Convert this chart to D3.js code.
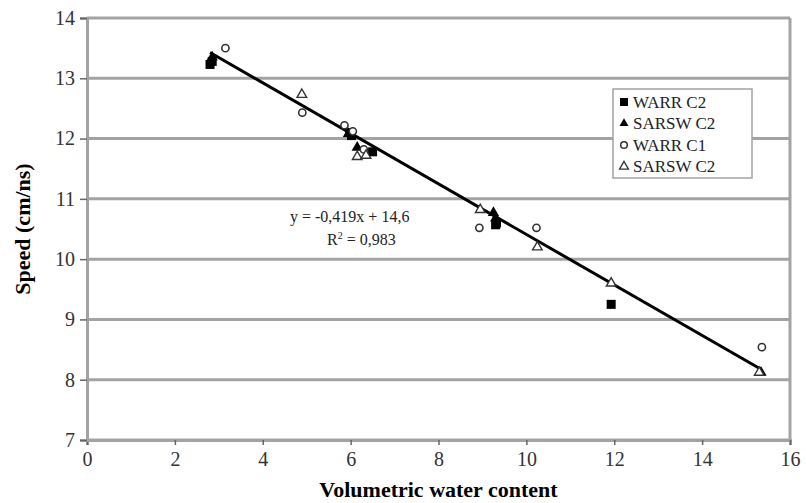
<!DOCTYPE html>
<html>
<head>
<meta charset="utf-8">
<script src="https://cdn.jsdelivr.net/npm/d3@7"></script>
<style>
  body { margin: 0; background: #fff; }
  svg { font-family: "Liberation Serif", "DejaVu Serif", serif; }
</style>
</head>
<body>
<div id="chart"></div>
<script>
// data
const xTicks = [0, 2, 4, 6, 8, 10, 12, 14, 16];
const yTicks = [7, 8, 9, 10, 11, 12, 13, 14];
const warrC2 = [[2.8, 13.23], [2.85, 13.28], [5.98, 12.1], [6.02, 12.05], [6.5, 11.78], [9.3, 10.57], [9.32, 10.6], [11.93, 9.25]];
const sarswC2 = [[2.85, 13.35], [5.95, 12.08], [6.15, 11.85], [9.25, 10.77], [9.3, 10.68], [15.34, 8.12]];
const warrC1 = [[3.15, 13.5], [4.9, 12.43], [5.86, 12.22], [6.05, 12.12], [6.3, 11.82], [8.93, 10.52], [10.23, 10.52], [15.36, 8.54]];
const sarswC2b = [[4.89, 12.73], [6.15, 11.7], [6.35, 11.72], [8.95, 10.82], [10.25, 10.2], [11.93, 9.6], [15.3, 8.12]];
const legendLabels = ["WARR C2", "SARSW C2", "WARR C1", "SARSW C2"];
const slope = -0.419, intercept = 14.6;
const fitRange = [2.8, 15.35];

const width = 806, height = 503;
const grey = "#a3a3a3";

const svg = d3.select("#chart").append("svg")
  .attr("width", width)
  .attr("height", height);

const x = d3.scaleLinear().domain([0, 16]).range([87, 790]);
const y = d3.scaleLinear().domain([7, 14]).range([440, 18]);

// horizontal grid lines
svg.append("g")
  .selectAll("line")
  .data(yTicks)
  .enter()
  .append("line")
    .attr("x1", x(0))
    .attr("x2", x(16))
    .attr("y1", d => y(d))
    .attr("y2", d => y(d))
    .attr("stroke", grey)
    .attr("stroke-width", 3);

// right border
svg.append("line")
  .attr("x1", x(16)).attr("x2", x(16))
  .attr("y1", y(14)).attr("y2", y(7))
  .attr("stroke", grey).attr("stroke-width", 3);

// axes
const xAxis = svg.append("g")
  .attr("transform", "translate(0," + y(7) + ")")
  .call(d3.axisBottom(x).tickValues(xTicks).tickSize(5).tickPadding(7).tickFormat(d3.format("d")));
const yAxis = svg.append("g")
  .attr("transform", "translate(" + x(0) + ",0)")
  .call(d3.axisLeft(y).tickValues(yTicks).tickSize(7).tickPadding(5).tickFormat(d3.format("d")));
[xAxis, yAxis].forEach(a => {
  a.select(".domain").attr("stroke", grey).attr("stroke-width", 3);
  a.selectAll(".tick line").attr("stroke", "#666").attr("stroke-width", 1.5);
  a.selectAll(".tick text")
    .attr("fill", "#333")
    .style("font-family", "Liberation Serif, serif")
    .style("font-size", "20px");
});

// regression line
svg.append("line")
  .attr("x1", x(fitRange[0]))
  .attr("y1", y(slope * fitRange[0] + intercept))
  .attr("x2", x(fitRange[1]))
  .attr("y2", y(slope * fitRange[1] + intercept))
  .attr("stroke", "#000")
  .attr("stroke-width", 3);

// markers
const tri = d3.symbol().type(d3.symbolTriangle);
svg.append("g").selectAll("rect").data(warrC2).enter().append("rect")
  .attr("x", d => x(d[0]) - 4.5).attr("y", d => y(d[1]) - 4.5)
  .attr("width", 9).attr("height", 9).attr("fill", "#000");
svg.append("g").selectAll("path").data(sarswC2).enter().append("path")
  .attr("d", tri.size(55))
  .attr("transform", d => "translate(" + x(d[0]) + "," + y(d[1]) + ")")
  .attr("fill", "#000");
svg.append("g").selectAll("circle").data(warrC1).enter().append("circle")
  .attr("cx", d => x(d[0])).attr("cy", d => y(d[1])).attr("r", 3.6)
  .attr("fill", "#fff").attr("stroke", "#333").attr("stroke-width", 1.6);
svg.append("g").selectAll("path").data(sarswC2b).enter().append("path")
  .attr("d", tri.size(40))
  .attr("transform", d => "translate(" + x(d[0]) + "," + y(d[1]) + ")")
  .attr("fill", "#fff").attr("stroke", "#333").attr("stroke-width", 1.4);

// equation text
const eq = svg.append("g").style("font-size", "16px").attr("fill", "#222");
eq.append("text").attr("x", 290).attr("y", 222)
  .text("y = -0,419x + 14,6");
const r2 = eq.append("text").attr("x", 327).attr("y", 245);
r2.append("tspan").text("R");
r2.append("tspan").attr("dy", -6).style("font-size", "10px").text("2");
r2.append("tspan").attr("dy", 6).text(" = 0,983");

// legend
const lg = svg.append("g").attr("transform", "translate(613,89)");
lg.append("rect").attr("width", 139).attr("height", 89)
  .attr("fill", "#fff").attr("stroke", grey).attr("stroke-width", 1.5);
legendLabels.forEach((lab, i) => {
  const row = lg.append("g").attr("transform", "translate(11," + (13 + i * 21.5) + ")");
  if (i === 0) row.append("rect").attr("x", -4).attr("y", -4).attr("width", 8).attr("height", 8).attr("fill", "#000");
  if (i === 1) row.append("path").attr("d", tri.size(35)).attr("fill", "#000");
  if (i === 2) row.append("circle").attr("r", 3.3).attr("fill", "#fff").attr("stroke", "#333").attr("stroke-width", 1.5);
  if (i === 3) row.append("path").attr("d", tri.size(35)).attr("fill", "#fff").attr("stroke", "#333").attr("stroke-width", 1.3);
  row.append("text").attr("x", 9).attr("y", 5.5)
    .style("font-size", "17px").attr("fill", "#222")
    .text(lab);
});

// axis titles
svg.append("text")
  .attr("x", x(8)).attr("y", 497)
  .attr("text-anchor", "middle")
  .style("font-size", "22px").style("font-weight", "bold")
  .text("Volumetric water content");
svg.append("text")
  .attr("transform", "translate(30," + y(10.5) + ") rotate(-90)")
  .attr("text-anchor", "middle")
  .style("font-size", "22px").style("font-weight", "bold")
  .text("Speed (cm/ns)");
</script>
</body>
</html>
